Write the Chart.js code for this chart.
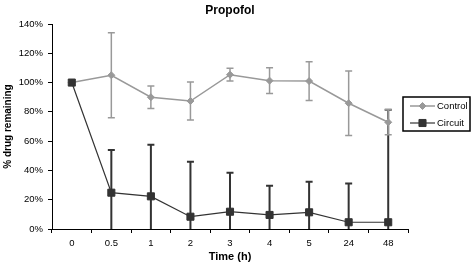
<!DOCTYPE html>
<html>
<head>
<meta charset="utf-8">
<script src="https://cdn.jsdelivr.net/npm/chart.js@4"></script>
<style>
  body { margin: 0; background: #fff; }
  canvas { display: block; }
</style>
</head>
<body>
<canvas id="propofolChart" width="472" height="267"></canvas>
<script>
// data
const timeLabels = ['0', '0.5', '1', '2', '3', '4', '5', '24', '48'];
const controlValues = [100, 105, 90, 87.4, 105.4, 101.3, 101, 85.9, 72.9];
const controlErrors = [0, 29, 7.7, 13, 4.4, 8.8, 13.3, 22, 8.5];
const circuitValues = [100, 24.8, 22.3, 8.4, 11.8, 9.6, 11.4, 4.6, 4.6];
const circuitErrors = [0, 29.2, 35.3, 37.6, 26.7, 20, 20.9, 26.4, 76.9];

const fontFamily = '"Liberation Sans", Arial, Helvetica, sans-serif';
const controlColor = '#999999';
const circuitColor = '#333333';

// draws vertical error bars with caps, clipped to the plot area
const errorBarPlugin = {
    id: 'errorBars',
    beforeDatasetsDraw(chart) {
        const ctx = chart.ctx;
        const yScale = chart.scales.y;
        const area = chart.chartArea;
        ctx.save();
        ctx.beginPath();
        ctx.rect(area.left, area.top - 1, area.right - area.left, area.bottom - area.top + 1);
        ctx.clip();
        // circuit bars underneath, control bars above
        [1, 0].forEach(function (dsIndex) {
            const ds = chart.data.datasets[dsIndex];
            const meta = chart.getDatasetMeta(dsIndex);
            ctx.strokeStyle = ds.errorColor;
            ctx.lineWidth = ds.errorWidth;
            ds.data.forEach(function (value, i) {
                const err = ds.errors[i];
                if (!err) return;
                const x = meta.data[i].x;
                const yTop = yScale.getPixelForValue(value + err);
                const lowVal = value - err;
                const yBot = yScale.getPixelForValue(Math.max(lowVal, 0));
                ctx.beginPath();
                ctx.moveTo(x, yTop);
                ctx.lineTo(x, yBot);
                ctx.moveTo(x - 3.5, yTop);
                ctx.lineTo(x + 3.5, yTop);
                if (lowVal >= 0) {
                    ctx.moveTo(x - 3.5, yBot);
                    ctx.lineTo(x + 3.5, yBot);
                }
                ctx.stroke();
            });
        });
        ctx.restore();
    }
};

// boxed legend at the right, like the original
const boxLegendPlugin = {
    id: 'boxLegend',
    afterDraw(chart) {
        const ctx = chart.ctx;
        const left = 403, top = 97, right = 470, bottom = 131;
        ctx.save();
        ctx.fillStyle = '#fff';
        ctx.fillRect(left, top, right - left, bottom - top);
        ctx.strokeStyle = '#000';
        ctx.lineWidth = 1.5;
        ctx.strokeRect(left, top, right - left, bottom - top);
        const rows = [106, 123];
        chart.data.datasets.forEach(function (ds, i) {
            const y = rows[i];
            ctx.strokeStyle = ds.borderColor;
            ctx.lineWidth = ds.borderWidth;
            ctx.beginPath();
            ctx.moveTo(410, y);
            ctx.lineTo(435, y);
            ctx.stroke();
            ctx.fillStyle = ds.backgroundColor;
            ctx.strokeStyle = ds.borderColor;
            ctx.lineWidth = 1;
            Chart.helpers.drawPoint(ctx, {
                pointStyle: ds.pointStyle,
                radius: ds.pointRadius,
                borderWidth: 1
            }, 422.5, y);
            ctx.fillStyle = '#000';
            ctx.font = '9.5px ' + fontFamily;
            ctx.textBaseline = 'middle';
            ctx.textAlign = 'left';
            ctx.fillText(ds.label, 437, y);
        });
        ctx.restore();
    }
};

const ctx = document.getElementById('propofolChart').getContext('2d');
const chart = new Chart(ctx, {
    type: 'line',
    data: {
        labels: timeLabels,
        datasets: [
            {
                label: 'Control',
                data: controlValues,
                errors: controlErrors,
                errorColor: controlColor,
                errorWidth: 1.5,
                borderColor: controlColor,
                backgroundColor: controlColor,
                borderWidth: 1.5,
                pointStyle: 'rectRot',
                pointRadius: 3.5,
                pointBorderWidth: 1,
                tension: 0,
                order: 1
            },
            {
                label: 'Circuit',
                data: circuitValues,
                errors: circuitErrors,
                errorColor: circuitColor,
                errorWidth: 2,
                borderColor: circuitColor,
                backgroundColor: circuitColor,
                borderWidth: 1.2,
                pointStyle: 'rect',
                pointRadius: 5,
                pointBorderWidth: 1,
                tension: 0,
                order: 0
            }
        ]
    },
    options: {
        responsive: false,
        animation: false,
        devicePixelRatio: 1,
        layout: {
            padding: { left: 0, top: 0, right: 64, bottom: 0 }
        },
        plugins: {
            legend: { display: false },
            tooltip: { enabled: false },
            title: {
                display: true,
                text: 'Propofol',
                fullSize: false,
                color: '#000',
                font: { family: fontFamily, size: 12, weight: 'bold' },
                padding: { top: 3, bottom: 6.6 }
            }
        },
        scales: {
            x: {
                type: 'category',
                offset: true,
                afterFit: function (scale) { scale.height = 38; },
                grid: {
                    offset: true,
                    drawOnChartArea: false,
                    drawTicks: true,
                    tickLength: 4,
                    color: '#000'
                },
                border: { color: '#000', width: 1 },
                ticks: {
                    color: '#000',
                    padding: 5,
                    maxRotation: 0,
                    autoSkip: false,
                    font: { family: fontFamily, size: 9.5 }
                },
                title: {
                    display: true,
                    text: 'Time (h)',
                    color: '#000',
                    font: { family: fontFamily, size: 11, weight: 'bold' },
                    padding: { top: 0, bottom: 3 }
                }
            },
            y: {
                min: 0,
                max: 140,
                afterFit: function (scale) { scale.width = 52; },
                grid: {
                    drawOnChartArea: false,
                    drawTicks: true,
                    tickLength: 4,
                    color: '#000'
                },
                border: { color: '#000', width: 1 },
                ticks: {
                    stepSize: 20,
                    color: '#000',
                    padding: 5,
                    font: { family: fontFamily, size: 9.5 },
                    callback: function (value) { return value + '%'; }
                },
                title: {
                    display: true,
                    text: '% drug remaining',
                    color: '#000',
                    font: { family: fontFamily, size: 10, weight: 'bold' },
                    padding: { top: 2, bottom: 0 }
                }
            }
        }
    },
    plugins: [errorBarPlugin, boxLegendPlugin]
});
</script>
</body>
</html>
